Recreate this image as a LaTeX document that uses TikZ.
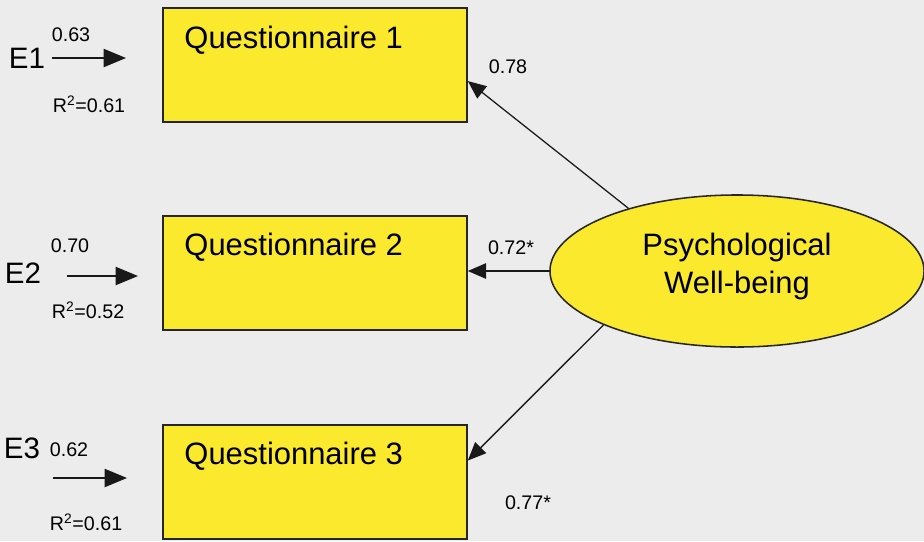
\documentclass[tikz,border=0pt]{standalone}
\usepackage{fontspec}
\setmainfont{Liberation Sans}
\usepackage{xcolor}
\usetikzlibrary{shapes.geometric, arrows.meta}

\definecolor{BoxYellow}{RGB}{250,233,45}
\definecolor{PageGray}{RGB}{236,236,236}

\begin{document}
\begin{tikzpicture}[x=0.025cm, y=-0.025cm,
    qbox/.style={draw=black!85, line width=1.1pt, fill=BoxYellow, minimum width=7.6cm, minimum height=2.85cm, inner sep=0pt},
    qtext/.style={font=\fontsize{22}{26}\selectfont, inner sep=0pt, anchor=base west},
    latent/.style={ellipse, draw=black!85, line width=1.1pt, fill=BoxYellow, minimum width=9.35cm, minimum height=3.8cm, inner sep=0pt, align=center, text depth=11pt, font=\fontsize{22}{26.5}\selectfont},
    errlabel/.style={font=\fontsize{21}{24}\selectfont, inner sep=0pt},
    coef/.style={font=\fontsize{14}{16}\selectfont, inner sep=0pt},
    load/.style={-{Triangle[length=13pt, width=11pt]}, line width=0.9pt, draw=black!90},
    err/.style={-{Triangle[length=16pt, width=13pt]}, line width=1.1pt, draw=black!90}]

    % Page
    \fill[PageGray] (0,0) rectangle (924,541);
    \useasboundingbox (0,0) rectangle (924,541);

    % Reference coordinates
    \coordinate (e1start) at (52,58);
    \coordinate (e1tip) at (126,58);

    \coordinate (e2start) at (67,276);
    \coordinate (e2tip) at (138,276);

    \coordinate (e3start) at (53,478);
    \coordinate (e3tip) at (127,478);

    % Questionnaires
    \node[qbox] (q1) at (315,65) {};
    \node[qtext] (q1text) at ([shift={(22,41)}]q1.north west) {Questionnaire 1};

    \node[qbox] (q2) at (315,273) {};
    \node[qtext] (q2text) at ([shift={(22,40)}]q2.north west) {Questionnaire 2};

    \node[qbox] (q3) at (315,482) {};
    \node[qtext] (q3text) at ([shift={(22,40)}]q3.north west) {Questionnaire 3};

    % Latent variable
    \node[latent] (pwb) at (737,271) {Psychological\\Well-being};

    % Errors
    \node[errlabel] (e1) at (27,58) {E1};
    \node[coef] (e1coef) at (71,35) {0.63};
    \node[coef] (r1) at (89,104) {R\textsuperscript{2}=0.61};

    \node[errlabel] (e2) at (23,273) {E2};
    \node[coef] (e2coef) at (70,246) {0.70};
    \node[coef] (r2) at (88,310) {R\textsuperscript{2}=0.52};

    \node[errlabel] (e3) at (22,448) {E3};
    \node[coef] (e3coef) at (69,450) {0.62};
    \node[coef] (r3) at (86,522) {R\textsuperscript{2}=0.61};

    % Error arrows
    \draw[err] (e1start) -- (e1tip);
    \draw[err] (e2start) -- (e2tip);
    \draw[err] (e3start) -- (e3tip);

    % Loadings
    \draw[load] (pwb.150) -- (q1.-6);
    \draw[load] (pwb.west) -- (q2.east |- pwb.west);
    \draw[load] (pwb.202) -- (q3.8);

    \node[coef] (l1) at (508,67) {0.78};
    \node[coef] (l2) at (511,248) {0.72*};
    \node[coef] (l3) at (528,503) {0.77*};

\end{tikzpicture}
\end{document}
